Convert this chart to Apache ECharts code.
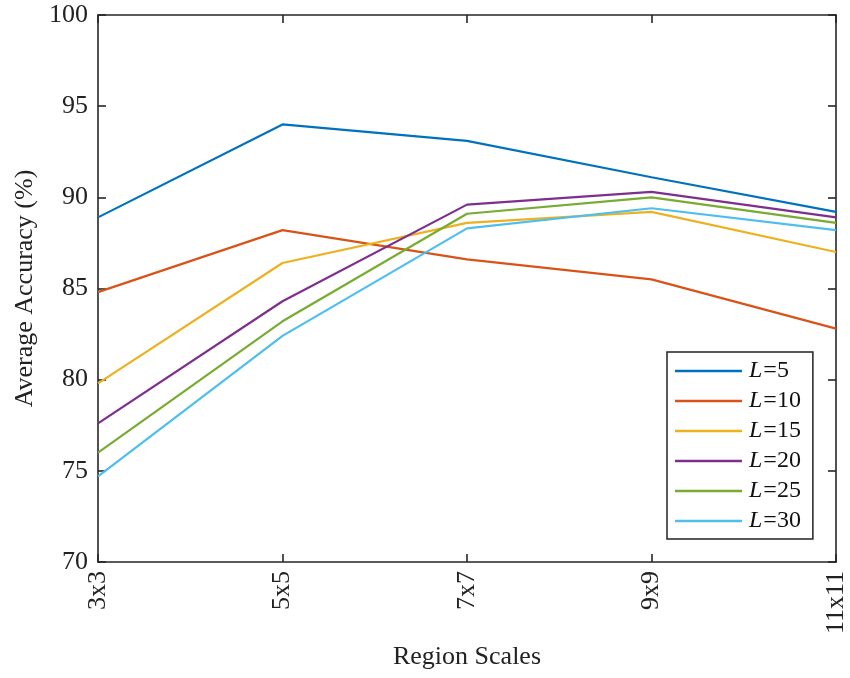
<!DOCTYPE html>
<html>
<head>
<meta charset="utf-8">
<script src="https://cdn.jsdelivr.net/npm/echarts@6/dist/echarts.min.js"></script>
<style>
  html, body { margin: 0; padding: 0; background: #fff; }
  #chart { width: 850px; height: 678px; }
</style>
</head>
<body>
<div id="chart"></div>
<script>
// Region scale categories along the x axis
const regionScales = ['3x3', '5x5', '7x7', '9x9', '11x11'];

// Average accuracy (%) for each number of layers L
const seriesNames = ['L=5', 'L=10', 'L=15', 'L=20', 'L=25', 'L=30'];
const accL5  = [88.9, 94.0, 93.1, 91.1, 89.2];
const accL10 = [84.8, 88.2, 86.6, 85.5, 82.8];
const accL15 = [79.8, 86.4, 88.6, 89.2, 87.0];
const accL20 = [77.6, 84.3, 89.6, 90.3, 88.9];
const accL25 = [76.0, 83.2, 89.1, 90.0, 88.6];
const accL30 = [74.7, 82.4, 88.3, 89.4, 88.2];
const seriesValues = [accL5, accL10, accL15, accL20, accL25, accL30];

// Y axis range and tick step
const yMin = 70, yMax = 100, yStep = 5;

const colors = ['#0072BD', '#D95319', '#EDB120', '#7E2F8E', '#77AC30', '#4DBEEE'];
const FONT = '"Liberation Serif", "DejaVu Serif", serif';
const AXIS_COLOR = '#262626';

const chart = echarts.init(document.getElementById('chart'), null, { renderer: 'canvas' });

const axisLineStyle = { lineStyle: { color: AXIS_COLOR, width: 1.6 } };
const tickStyle = { show: true, inside: true, length: 8, lineStyle: { color: AXIS_COLOR, width: 1.6 } };

const option = {
  animation: false,
  backgroundColor: '#fff',
  color: colors,
  grid: { left: 98, right: 14, top: 15, bottom: 116, containLabel: false },
  legend: {
    orient: 'vertical',
    left: 667,
    top: 352,
    padding: [7, 12, 6, 8],
    icon: 'rect',
    itemWidth: 67,
    itemHeight: 2.4,
    itemGap: 6,
    borderColor: '#222',
    borderWidth: 1.5,
    borderRadius: 0,
    backgroundColor: '#fff',
    data: seriesNames,
    formatter: function (name) {
      return '{i|L}{n|' + name.slice(1) + '}';
    },
    textStyle: {
      fontFamily: FONT,
      fontSize: 24,
      color: '#111',
      rich: {
        i: { fontFamily: FONT, fontSize: 24, fontStyle: 'italic', color: '#111', padding: [0, 1, 0, 2] },
        n: { fontFamily: FONT, fontSize: 24, color: '#111' }
      }
    }
  },
  xAxis: [
    {
      type: 'category',
      data: regionScales,
      boundaryGap: false,
      position: 'bottom',
      name: 'Region Scales',
      nameLocation: 'middle',
      nameGap: 82,
      nameTextStyle: { fontFamily: FONT, fontSize: 26, color: '#222', verticalAlign: 'top' },
      axisLine: axisLineStyle,
      axisTick: Object.assign({ alignWithLabel: true }, tickStyle),
      axisLabel: { rotate: 90, margin: 9, fontFamily: FONT, fontSize: 26, color: '#222' },
      splitLine: { show: false }
    },
    {
      type: 'category',
      data: regionScales,
      boundaryGap: false,
      position: 'top',
      axisLine: axisLineStyle,
      axisTick: tickStyle,
      axisLabel: { show: false },
      splitLine: { show: false }
    }
  ],
  yAxis: [
    {
      type: 'value',
      min: yMin,
      max: yMax,
      interval: yStep,
      position: 'left',
      name: 'Average Accuracy (%)',
      nameLocation: 'middle',
      nameGap: 60,
      nameTextStyle: { fontFamily: FONT, fontSize: 26, color: '#222' },
      axisLine: Object.assign({ show: true }, axisLineStyle),
      axisTick: tickStyle,
      axisLabel: { margin: 10, fontFamily: FONT, fontSize: 26, color: '#222' },
      splitLine: { show: false }
    },
    {
      type: 'value',
      min: yMin,
      max: yMax,
      interval: yStep,
      position: 'right',
      axisLine: Object.assign({ show: true }, axisLineStyle),
      axisTick: tickStyle,
      axisLabel: { show: false },
      splitLine: { show: false }
    }
  ],
  series: seriesNames.map(function (name, i) {
    return {
      name: name,
      type: 'line',
      data: seriesValues[i],
      symbol: 'none',
      lineStyle: { width: 2.2, color: colors[i] },
      itemStyle: { color: colors[i] },
      xAxisIndex: 0,
      yAxisIndex: 0
    };
  })
};

chart.setOption(option);
</script>
</body>
</html>
